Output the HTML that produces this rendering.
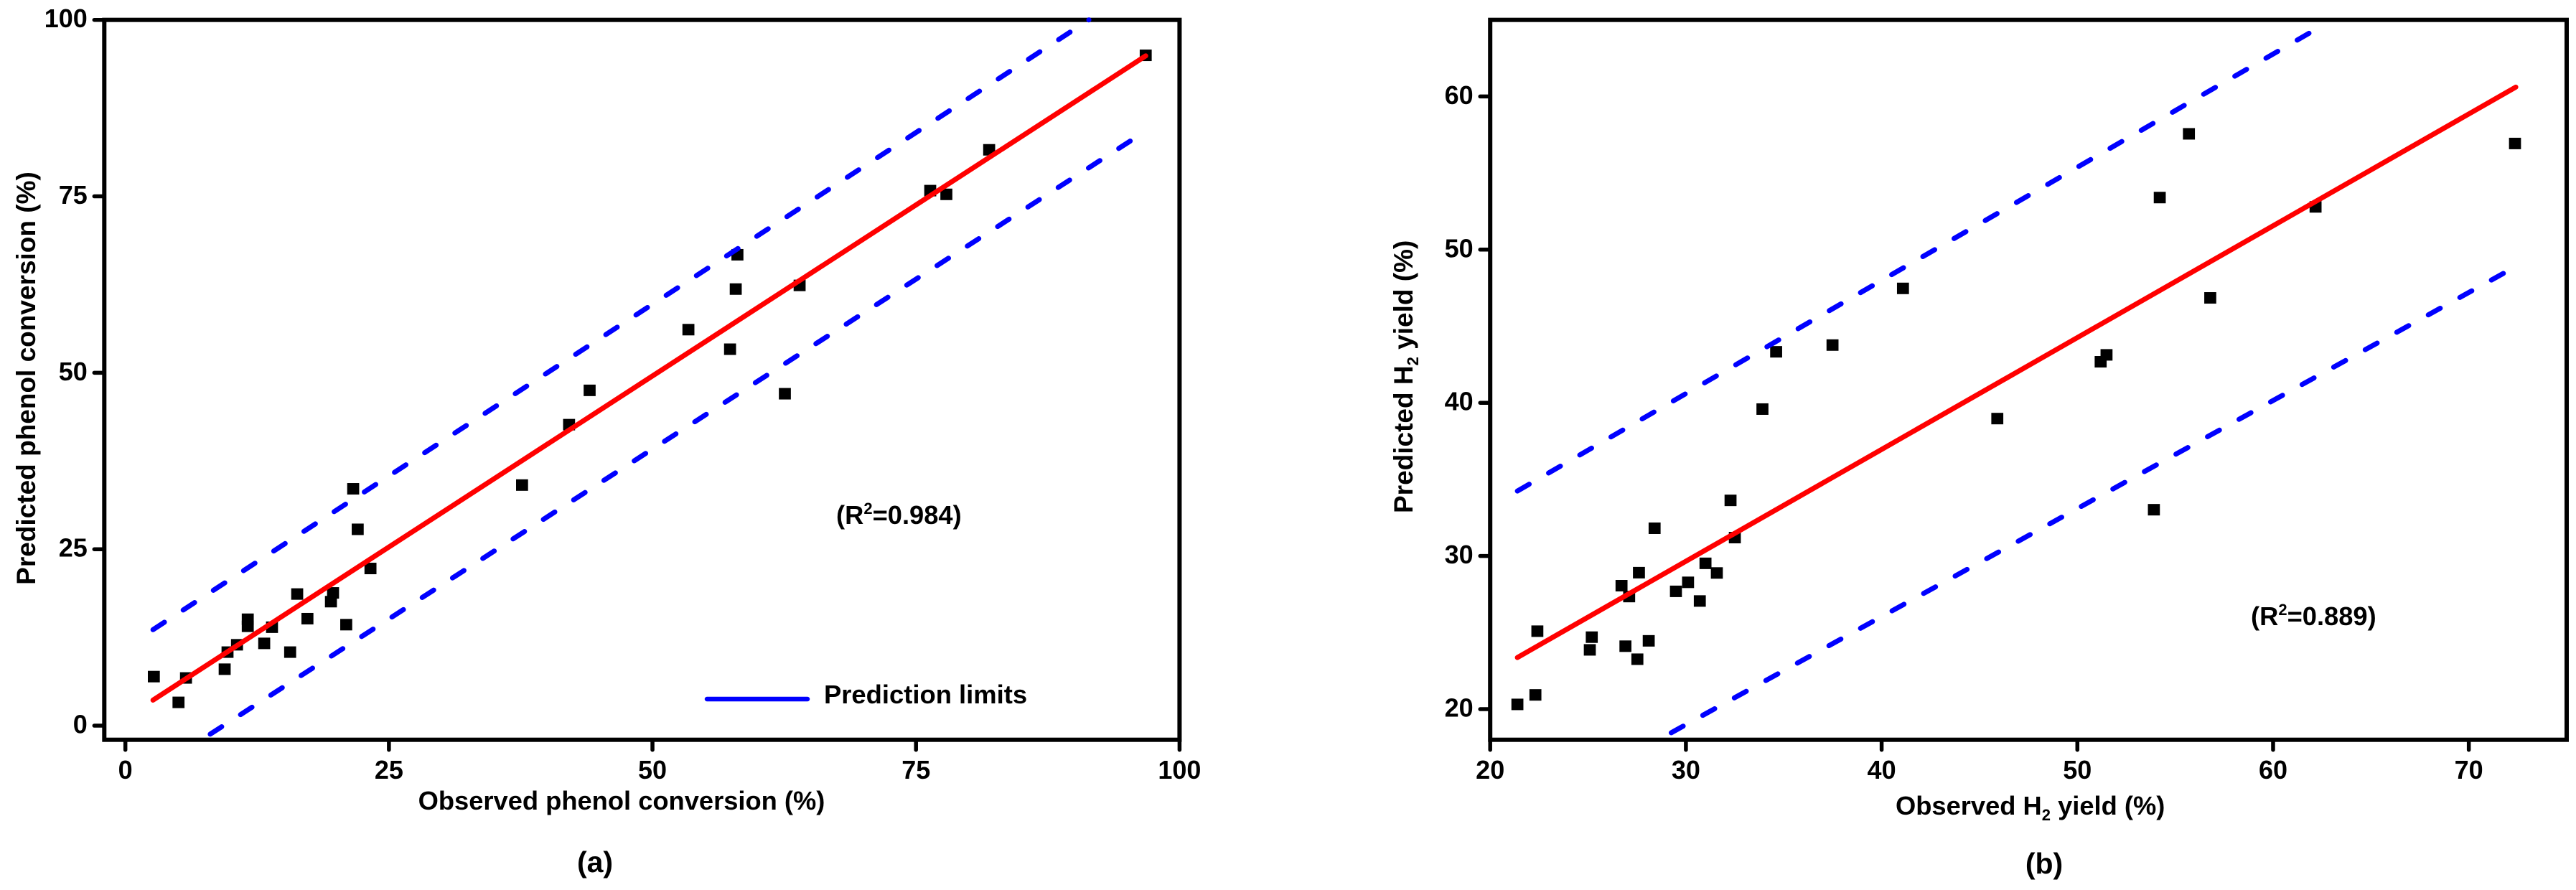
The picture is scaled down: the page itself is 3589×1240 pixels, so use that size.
<!DOCTYPE html>
<html lang="en">
<head>
<meta charset="utf-8">
<title>Observed vs predicted: phenol conversion and H2 yield</title>
<style>
html,body{margin:0;padding:0;background:#fff;width:3589px;height:1240px;overflow:hidden}
svg{display:block}
text{font-family:"Liberation Sans",Arial,sans-serif;font-weight:bold;fill:#000}
</style>
</head>
<body>
<svg id="figure" xmlns="http://www.w3.org/2000/svg" width="3589" height="1240" viewBox="0 0 3589 1240">
  <rect x="0" y="0" width="3589" height="1240" fill="#fff"/>
  <g id="panel-a"></g>
  <g id="panel-b"></g>

  <text x="866" y="1128" font-size="36.3" text-anchor="middle">Observed phenol conversion (%)</text>
  <text transform="translate(49,527) rotate(-90)" font-size="37" text-anchor="middle">Predicted phenol conversion (%)</text>
  <text x="829" y="1215" font-size="41" text-anchor="middle">(a)</text>
  <text x="1165" y="730" font-size="36.3">(R<tspan dy="-14" font-size="22">2</tspan><tspan dy="14">=0.984)</tspan></text>
  <line x1="985" y1="974" x2="1125" y2="974" stroke="#0000ff" stroke-width="6.5" stroke-linecap="round"/>
  <text x="1148" y="980" font-size="36.4">Prediction limits</text>

  <text x="2641" y="1135" font-size="36.3">Observed H<tspan dy="8" font-size="22">2</tspan><tspan dy="-8"> yield (%)</tspan></text>
  <text transform="translate(1968,715) rotate(-90)" font-size="37">Predicted H<tspan dy="8" font-size="22">2</tspan><tspan dy="-8"> yield (%)</tspan></text>
  <text x="2848" y="1217" font-size="41" text-anchor="middle">(b)</text>
  <text x="3136" y="871" font-size="36.3">(R<tspan dy="-14" font-size="22">2</tspan><tspan dy="14">=0.889)</tspan></text>
</svg>
<script>
// Panel (a): phenol conversion
const aTickValues = [0, 25, 50, 75, 100];
const aObserved = [2.70, 5.75, 5.04, 9.42, 9.69, 10.59, 11.61, 11.61, 13.91, 13.17, 15.63, 16.30, 17.27, 19.50, 19.70, 20.95, 23.25, 21.61, 22.04, 37.63, 44.04, 42.09, 58.06, 57.90, 53.41, 57.36, 63.96, 62.56, 76.35, 77.88, 81.94, 96.79];
const aPredicted = [6.95, 6.76, 3.30, 8.00, 10.42, 11.46, 15.08, 14.08, 13.95, 11.66, 10.42, 18.65, 15.16, 17.57, 18.81, 14.31, 22.27, 33.56, 27.82, 34.09, 47.51, 42.65, 66.72, 61.86, 56.11, 53.34, 62.38, 47.03, 75.81, 75.28, 81.59, 94.98];
const aFitX = [2.62, 96.79];
const aFitY = [3.62, 94.90];
const aUpperX = [2.62, 91.40];
const aUpperY = [13.60, 100];
const aLowerX = [8.05, 95.60];
const aLowerY = [-1.20, 83.10];

// Panel (b): H2 yield
const bTickValuesX = [20, 30, 40, 50, 60, 70];
const bTickValuesY = [20, 30, 40, 50, 60];
const bObserved = [21.39, 22.31, 22.41, 25.09, 25.19, 26.71, 27.10, 26.91, 27.52, 27.60, 28.10, 28.40, 29.49, 30.11, 30.71, 31.00, 31.58, 32.28, 32.50, 33.91, 34.61, 37.49, 41.09, 45.91, 51.19, 51.49, 54.21, 55.70, 56.79, 62.17, 72.36, 53.91];
const bPredicted = [20.31, 20.93, 25.09, 23.87, 24.70, 28.06, 27.35, 24.11, 23.26, 28.91, 24.46, 31.81, 27.69, 28.28, 27.06, 29.52, 28.89, 33.63, 31.20, 39.59, 43.33, 43.77, 47.47, 38.97, 42.68, 43.13, 53.40, 57.56, 46.85, 52.79, 56.93, 33.02];
const bFitX = [21.39, 72.40];
const bFitY = [23.37, 60.61];
const bUpperX = [21.39, 62.41];
const bUpperY = [34.24, 64.55];
const bLowerX = [29.25, 72.28];
const bLowerY = [18.46, 48.81];

const SVG_NS = 'http://www.w3.org/2000/svg';

function linearScale(d0, d1, r0, r1) {
  return function (v) { return r0 + (v - d0) * (r1 - r0) / (d1 - d0); };
}

function shape(parent, tag) {
  const el = document.createElementNS(SVG_NS, tag);
  parent.appendChild(el);
  return el;
}

function drawLine(parent, xs, ys, sx, sy, color, width, dash) {
  const el = shape(parent, 'polyline');
  el.setAttribute('points', xs.map(function (x, i) { return sx(x) + ',' + sy(ys[i]); }).join(' '));
  el.setAttribute('fill', 'none');
  el.setAttribute('stroke', color);
  el.setAttribute('stroke-width', width);
  el.setAttribute('stroke-linecap', 'round');
  if (dash) el.setAttribute('stroke-dasharray', dash);
  return el;
}

function drawPanel(cfg) {
  const g = document.getElementById(cfg.id);
  const sx = linearScale(cfg.xMin, cfg.xMax, cfg.left, cfg.right);
  const sy = linearScale(cfg.yMin, cfg.yMax, cfg.bottom, cfg.top);

  cfg.xTicks.forEach(function (v) {
    const tick = shape(g, 'line');
    
    
    tick.setAttribute('x1', sx(v));
    tick.setAttribute('x2', sx(v));
    tick.setAttribute('y1', cfg.bottom);
    tick.setAttribute('y2', cfg.bottom + 14);
    tick.setAttribute('stroke', '#000');
    tick.setAttribute('stroke-width', 5.5);
    tick.setAttribute('stroke-linecap', 'round');
    const label = shape(g, 'text');
    
    
    label.setAttribute('x', sx(v));
    label.setAttribute('y', 1085);
    label.setAttribute('font-size', 36);
    label.setAttribute('text-anchor', 'middle');
    label.textContent = String(v);
  });

  cfg.yTicks.forEach(function (v) {
    const tick = shape(g, 'line');
    
    
    tick.setAttribute('x1', cfg.left);
    tick.setAttribute('x2', cfg.left - 14);
    tick.setAttribute('y1', sy(v));
    tick.setAttribute('y2', sy(v));
    tick.setAttribute('stroke', '#000');
    tick.setAttribute('stroke-width', 5.5);
    tick.setAttribute('stroke-linecap', 'round');
    const label = shape(g, 'text');
    
    
    label.setAttribute('x', cfg.left - 23.5);
    label.setAttribute('y', sy(v) + 10.5);
    label.setAttribute('font-size', 36);
    label.setAttribute('text-anchor', 'end');
    label.textContent = String(v);
  });

  const frame = shape(g, 'rect');
  
  
  frame.setAttribute('x', cfg.left);
  frame.setAttribute('y', cfg.top);
  frame.setAttribute('width', cfg.right - cfg.left);
  frame.setAttribute('height', cfg.bottom - cfg.top);
  frame.setAttribute('fill', 'none');
  frame.setAttribute('stroke', '#000');
  frame.setAttribute('stroke-width', 6);

  cfg.observed.forEach(function (x, i) {
    const point = shape(g, 'rect');
    
    
    point.setAttribute('x', sx(x) - 8.35);
    point.setAttribute('y', sy(cfg.predicted[i]) - 8);
    point.setAttribute('width', 16.7);
    point.setAttribute('height', 16);
    point.setAttribute('fill', '#000');
  });

  const upper = drawLine(g, cfg.upperX, cfg.upperY, sx, sy, '#0000ff', 7, '19 31.2');
  
  

  const lower = drawLine(g, cfg.lowerX, cfg.lowerY, sx, sy, '#0000ff', 7, '19 31.2');
  
  

  const fit = drawLine(g, cfg.fitX, cfg.fitY, sx, sy, '#ff0000', 7, null);
  
  
}

drawPanel({
  id: 'panel-a', prefix: 'panel-a',
  left: 145.3, right: 1643.4, top: 27.7, bottom: 1030.7,
  xMin: -2, xMax: 100, yMin: -2, yMax: 100,
  xTicks: aTickValues, yTicks: aTickValues,
  observed: aObserved, predicted: aPredicted,
  fitX: aFitX, fitY: aFitY,
  upperX: aUpperX, upperY: aUpperY,
  lowerX: aLowerX, lowerY: aLowerY
});

drawPanel({
  id: 'panel-b', prefix: 'panel-b',
  left: 2076.2, right: 3576, top: 27.7, bottom: 1030.7,
  xMin: 20, xMax: 75, yMin: 18, yMax: 65,
  xTicks: bTickValuesX, yTicks: bTickValuesY,
  observed: bObserved, predicted: bPredicted,
  fitX: bFitX, fitY: bFitY,
  upperX: bUpperX, upperY: bUpperY,
  lowerX: bLowerX, lowerY: bLowerY
});
</script>
</body>
</html>
